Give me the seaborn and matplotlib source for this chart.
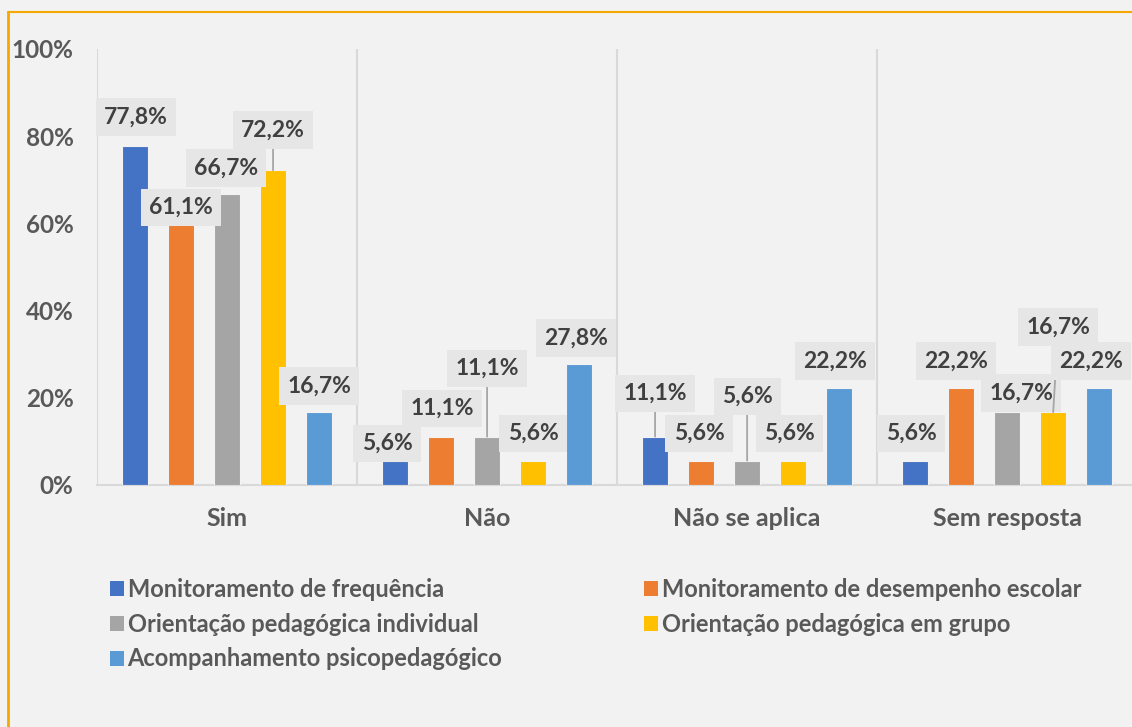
import matplotlib
matplotlib.use("Agg")
import matplotlib.pyplot as plt
from matplotlib.patches import Patch
from matplotlib.lines import Line2D
import seaborn as sns
import pandas as pd

# Dados do gráfico (percentuais)
categorias = ["Sim", "Não", "Não se aplica", "Sem resposta"]
series = [
    "Monitoramento de frequência",
    "Monitoramento de desempenho escolar",
    "Orientação pedagógica individual",
    "Orientação pedagógica em grupo",
    "Acompanhamento psicopedagógico",
]
freq = [77.8, 5.6, 11.1, 5.6]
desempenho = [61.1, 11.1, 5.6, 22.2]
individual = [66.7, 11.1, 5.6, 16.7]
grupo = [72.2, 5.6, 5.6, 16.7]
psico = [16.7, 27.8, 22.2, 22.2]
yticks = [0, 20, 40, 60, 80, 100]

cores = ["#4472C4", "#ED7D31", "#A5A5A5", "#FFC000", "#5B9BD5"]

# deslocamento dos rótulos (pixels) em relação ao topo de cada barra: [serie][categoria]
offsets = [
    [(1, 29), (-8, 17), (0, 43), (-4, 27)],
    [(0, 11), (1, 28), (-2, 27), (-5, 27)],
    [(-1, 26), (0, 68), (0, 64), (14, 19)],
    [(0, 40), (0, 27), (-4, 27), (5, 85)],
    [(0, 26), (-3, 26), (-4, 27), (-8, 27)],
]

valores = [freq, desempenho, individual, grupo, psico]
df = pd.DataFrame(
    [(c, s, v[i]) for s, v in zip(series, valores) for i, c in enumerate(categorias)],
    columns=["categoria", "serie", "valor"],
)

sns.set_theme(style="white")
plt.rcParams["font.family"] = ["Lato", "DejaVu Sans"]
plt.rcParams["font.weight"] = "bold"

bg = "#f2f2f2"
fig = plt.figure(figsize=(11.32, 7.27), dpi=100, facecolor=bg)
ax = fig.add_axes([97 / 1132, (727 - 485) / 727, 1035 / 1132, 436 / 727])
ax.set_facecolor(bg)

sns.barplot(data=df, x="categoria", y="valor", hue="serie", order=categorias,
            hue_order=series, palette=cores, saturation=1, width=0.885, gap=0.435,
            edgecolor=bg, linewidth=0.8, legend=False, ax=ax, zorder=3)

ax.set_ylim(0, 100)
ax.set_xlim(-0.5, 3.48)
ax.set_yticks(yticks)
ax.set_yticklabels([f"{t}%" for t in yticks])
ax.set_xlabel("")
ax.set_ylabel("")
ax.tick_params(axis="y", length=0, pad=17, labelsize=17.5, labelcolor="#595959")
ax.tick_params(axis="x", length=0, pad=16, labelsize=18, labelcolor="#595959")
for lbl in ax.get_xticklabels() + ax.get_yticklabels():
    lbl.set_fontweight("bold")

for sp in ["top", "right", "left"]:
    ax.spines[sp].set_visible(False)
ax.spines["bottom"].set_color("#d9d9d9")
ax.spines["bottom"].set_linewidth(1.5)
for xs in [-0.5, 0.5, 1.5, 2.5]:
    ax.axvline(xs, color="#d9d9d9", lw=1.5, zorder=1)

# Rótulos de dados com caixa cinza e linhas de chamada
for si, cont in enumerate(ax.containers):
    for ci, bar in enumerate(cont):
        v = valores[si][ci]
        dx, dy = offsets[si][ci]
        x = bar.get_x() + bar.get_width() / 2
        txt = f"{v:.1f}%".replace(".", ",")
        arrow = dict(arrowstyle="-", color="#a6a6a6", lw=1.3, shrinkA=0, shrinkB=0) if dy > 35 else None
        ax.annotate(txt, xy=(x, v), xytext=(dx, dy), textcoords="offset pixels",
                    ha="center", va="center", fontsize=16.5, fontweight="bold", color="#404040",
                    bbox=dict(boxstyle="square,pad=0.36", fc="#e6e6e6", ec="none"),
                    arrowprops=arrow, zorder=5, annotation_clip=False)

# Legenda em duas colunas (ordem por coluna)
ordem = [0, 2, 4, 1, 3]
handles = [Patch(facecolor=cores[i], edgecolor="none") for i in ordem]
fig.legend(handles, [series[i] for i in ordem], ncol=2, frameon=False,
           loc="upper left", bbox_to_anchor=(98 / 1132, (727 - 566) / 727),
           handlelength=0.6, handleheight=0.6, handletextpad=0.15,
           labelspacing=0.5, columnspacing=6.0, borderpad=0, labelcolor="#595959",
           prop={"weight": "bold", "size": 17})

# Borda laranja do quadro
fig.add_artist(Line2D([8 / 1132, 8 / 1132], [0, (727 - 12) / 727], color="#F5A800", lw=2, transform=fig.transFigure))
fig.add_artist(Line2D([8 / 1132, 1], [(727 - 12) / 727, (727 - 12) / 727], color="#F5A800", lw=1.5, transform=fig.transFigure))

fig.savefig("out.png", dpi=100, facecolor=bg)
